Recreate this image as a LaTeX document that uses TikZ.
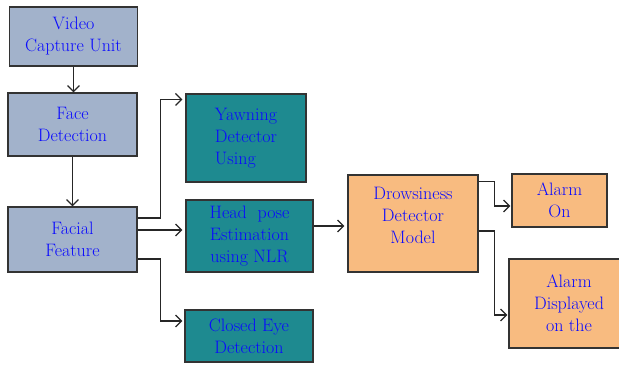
\documentclass[tikz,border=0pt]{standalone}
\usetikzlibrary{arrows.meta}
\definecolor{greyBlue}{HTML}{A2B2CB}
\definecolor{tealBox}{HTML}{1E8A90}
\definecolor{orangeBox}{HTML}{F8BB80}
\definecolor{textBlue}{HTML}{0A0AFF}
\tikzset{box/.style={draw=black!80, line width=1.1pt, inner sep=0pt, align=center,
        text=textBlue, font=\fontsize{18}{22}\selectfont},
    inputbox/.style={box, fill=greyBlue},
    featbox/.style={box, fill=tealBox},
    outbox/.style={box, fill=orangeBox},
    link/.style={line width=1.3pt, black!85, -{Straight Barb[length=6pt,width=12pt]}},
    }

\begin{document}
\begin{tikzpicture}[x=1pt,y=-1pt]
	\useasboundingbox (0,0) rectangle (619,365);
	\node[inputbox, minimum width=128pt, minimum height=59pt] (videoUnit) at (73.5,36.5) {Video\\Capture Unit};
	\node[inputbox, minimum width=129pt, minimum height=63pt] (faceDet) at (72.5,124.5) {Face\\Detection};
	\node[inputbox, minimum width=129pt, minimum height=65pt] (facialFeat) at (72.5,239.5) {Facial\\Feature};
	\node[featbox, align=left, minimum width=120pt, minimum height=88pt] (yawnDet) at (246,138) {Yawning\\Detector\\Using};
	\node[featbox, minimum width=127pt, minimum height=72pt] (headPose) at (249.5,236) {Head\ \ pose\\Estimation\\using NLR};
	\node[featbox, minimum width=128pt, minimum height=52pt] (closedEye) at (249,336) {Closed Eye\\Detection};
	\node[outbox, minimum width=130pt, minimum height=97pt] (drowsyModel) at (413,223.5) {Drowsiness\\Detector\\Model\\[-6pt]};
	\node[outbox, minimum width=95pt, minimum height=53pt] (alarmOn) at (559.5,200.5) {Alarm\\On};
	\node[outbox, minimum width=120pt, minimum height=89pt] (alarmDisp) at (569,303.5) {Alarm\\Displayed\\on the};

	\draw[link] (videoUnit.south) -- (videoUnit.south |- faceDet.north);
	\draw[link] (faceDet.south) -- (faceDet.south |- facialFeat.north);
	\draw[link, shorten >=3pt] ([yshift=21.5pt]facialFeat.east) -- ++(23,0) |- ([yshift=-6pt]yawnDet.north west);
	\draw[link, shorten >=3pt] ([yshift=9.5pt]facialFeat.east) -- ([yshift=6pt]headPose.west);
	\draw[link, shorten >=2pt] ([yshift=-19.5pt]facialFeat.east) -- ++(23,0) |- ([yshift=15pt]closedEye.west);
	\draw[link, shorten >=3pt] ([yshift=10pt]headPose.east) -- ([yshift=10pt]headPose.east -| drowsyModel.west);
	\draw[link, shorten >=1pt] ([yshift=-7pt]drowsyModel.north east) -- ++(16,0) |- ([yshift=-5.5pt]alarmOn.west);
	\draw[link, shorten >=1pt] ([yshift=-7.5pt]drowsyModel.east) -- ++(16,0) |- ([yshift=-11.5pt]alarmDisp.west);
\end{tikzpicture}
\end{document}
